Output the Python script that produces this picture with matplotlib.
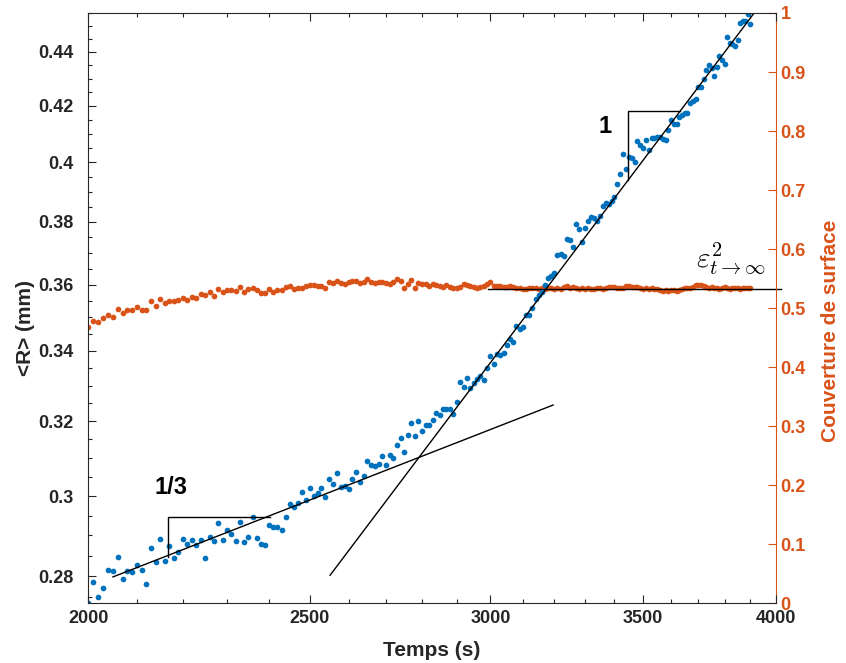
import numpy as np
import matplotlib
matplotlib.use('Agg')
import matplotlib.pyplot as plt
from matplotlib.ticker import FixedLocator, FixedFormatter, NullFormatter

plt.rcParams['font.family'] = ['Liberation Sans', 'DejaVu Sans']
plt.rcParams['font.weight'] = 'bold'
plt.rcParams['mathtext.fontset'] = 'cm'

blue = '#0072BD'
orange = '#D95319'
dark = '#262626'

# one image every 10 s, from 2000 s to 3900 s
temps = np.arange(2000, 3910, 10)

# mean radius <R> (mm), left axis
rayon = [
    0.2735, 0.2786, 0.2750, 0.2772, 0.2815, 0.2812, 0.2846, 0.2794, 0.2813, 0.2811,
    0.2826, 0.2815, 0.2780, 0.2868, 0.2833, 0.2890, 0.2837, 0.2874, 0.2843, 0.2859,
    0.2890, 0.2878, 0.2888, 0.2875, 0.2888, 0.2845, 0.2896, 0.2887, 0.2930, 0.2888,
    0.2913, 0.2903, 0.2887, 0.2934, 0.2883, 0.2897, 0.2946, 0.2894, 0.2878, 0.2876,
    0.2926, 0.2920, 0.2920, 0.2913, 0.2946, 0.2979, 0.2971, 0.2983, 0.3011, 0.2991,
    0.3022, 0.3000, 0.3007, 0.3020, 0.2997, 0.3044, 0.3031, 0.3061, 0.3024, 0.3026,
    0.3018, 0.3044, 0.3062, 0.3037, 0.3052, 0.3091, 0.3081, 0.3079, 0.3084, 0.3106,
    0.3081, 0.3107, 0.3099, 0.3135, 0.3154, 0.3115, 0.3163, 0.3195, 0.3160, 0.3200,
    0.3172, 0.3189, 0.3189, 0.3202, 0.3224, 0.3217, 0.3233, 0.3233, 0.3233, 0.3221,
    0.3254, 0.3310, 0.3296, 0.3322, 0.3293, 0.3306, 0.3318, 0.3328, 0.3317, 0.3349,
    0.3385, 0.3362, 0.3391, 0.3387, 0.3394, 0.3417, 0.3434, 0.3427, 0.3473, 0.3465,
    0.3470, 0.3506, 0.3507, 0.3527, 0.3556, 0.3567, 0.3577, 0.3598, 0.3622, 0.3626,
    0.3635, 0.3693, 0.3695, 0.3691, 0.3746, 0.3740, 0.3719, 0.3793, 0.3777, 0.3734,
    0.3779, 0.3802, 0.3817, 0.3812, 0.3802, 0.3819, 0.3853, 0.3861, 0.3859, 0.3870,
    0.3883, 0.3926, 0.3960, 0.4029, 0.3979, 0.4019, 0.4015, 0.4003, 0.4075, 0.4061,
    0.4049, 0.4078, 0.4043, 0.4086, 0.4085, 0.4089, 0.4088, 0.4080, 0.4077, 0.4113,
    0.4149, 0.4133, 0.4134, 0.4158, 0.4166, 0.4173, 0.4174, 0.4209, 0.4218, 0.4225,
    0.4267, 0.4267, 0.4299, 0.4331, 0.4349, 0.4340, 0.4309, 0.4344, 0.4384, 0.4369,
    0.4354, 0.4455, 0.4432, 0.4429, 0.4422, 0.4445, 0.4509, 0.4519, 0.4519, 0.4548,
    0.4506,
]

# surface coverage, right axis
couverture = [
    0.4681, 0.4782, 0.4760, 0.4828, 0.4884, 0.4855, 0.4981, 0.4918, 0.4969, 0.4964,
    0.5014, 0.4974, 0.4964, 0.5121, 0.5042, 0.5150, 0.5092, 0.5126, 0.5121, 0.5133,
    0.5177, 0.5143, 0.5194, 0.5172, 0.5235, 0.5223, 0.5268, 0.5201, 0.5329, 0.5274,
    0.5307, 0.5313, 0.5296, 0.5363, 0.5268, 0.5324, 0.5341, 0.5307, 0.5262, 0.5262,
    0.5319, 0.5274, 0.5307, 0.5302, 0.5358, 0.5375, 0.5324, 0.5341, 0.5346, 0.5375,
    0.5392, 0.5397, 0.5381, 0.5376, 0.5336, 0.5438, 0.5421, 0.5466, 0.5421, 0.5404,
    0.5438, 0.5460, 0.5460, 0.5421, 0.5449, 0.5494, 0.5438, 0.5421, 0.5449, 0.5438,
    0.5421, 0.5404, 0.5438, 0.5494, 0.5460, 0.5347, 0.5404, 0.5472, 0.5336, 0.5421,
    0.5410, 0.5404, 0.5381, 0.5404, 0.5387, 0.5381, 0.5364, 0.5393, 0.5359, 0.5347,
    0.5336, 0.5364, 0.5404, 0.5393, 0.5376, 0.5359, 0.5336, 0.5353, 0.5381, 0.5404,
    0.5438, 0.5381, 0.5381, 0.5381, 0.5364, 0.5359, 0.5370, 0.5353, 0.5347, 0.5336,
    0.5330, 0.5325, 0.5336, 0.5347, 0.5347, 0.5330, 0.5342, 0.5318, 0.5336, 0.5350,
    0.5325, 0.5340, 0.5330, 0.5362, 0.5370, 0.5348, 0.5355, 0.5338, 0.5326, 0.5340,
    0.5332, 0.5345, 0.5330, 0.5322, 0.5336, 0.5340, 0.5328, 0.5335, 0.5352, 0.5366,
    0.5360, 0.5345, 0.5338, 0.5350, 0.5372, 0.5380, 0.5365, 0.5355, 0.5362, 0.5340,
    0.5332, 0.5338, 0.5330, 0.5335, 0.5328, 0.5320, 0.5300, 0.5295, 0.5305, 0.5292,
    0.5300, 0.5310, 0.5298, 0.5315, 0.5322, 0.5340, 0.5335, 0.5348, 0.5360, 0.5385,
    0.5400, 0.5392, 0.5375, 0.5360, 0.5345, 0.5358, 0.5340, 0.5336, 0.5330, 0.5342,
    0.5355, 0.5348, 0.5332, 0.5340, 0.5350, 0.5338, 0.5330, 0.5342, 0.5336, 0.5345,
    0.5340,
]

# power-law fits (end points) and slope triangles
fit13_t = [2050, 3196]
fit13_R = [0.2798, 0.3245]
fit1_t = [2552, 3914]
fit1_R = [0.2802, 0.4549]
plateau_t = [2993, 4022]
plateau_c = [0.5319, 0.5319]
tri13_t = [2168, 2168, 2402]
tri13_R = [0.2847, 0.2947, 0.2947]
tri1_t = [3446, 3446, 3632]
tri1_R = [0.3939, 0.4181, 0.4181]

x_major = [2000, 2500, 3000, 3500, 4000]
x_minor = [t for t in range(2100, 4000, 100) if t not in x_major]
y_major = [0.28, 0.30, 0.32, 0.34, 0.36, 0.38, 0.40, 0.42, 0.44]
y_major_lbl = ['0.28', '0.3', '0.32', '0.34', '0.36', '0.38', '0.4', '0.42', '0.44']
y_minor = [round(0.275 + 0.005 * k, 3) for k in range(37)]
c_ticks = [0, 0.1, 0.2, 0.3, 0.4, 0.5, 0.6, 0.7, 0.8, 0.9, 1]
c_lbl = ['0', '0.1', '0.2', '0.3', '0.4', '0.5', '0.6', '0.7', '0.8', '0.9', '1']

fig, ax = plt.subplots(figsize=(8.46, 6.63), dpi=100)
fig.subplots_adjust(left=0.1046, right=0.9167, bottom=0.0900, top=0.9804)
ax.set_xscale('log')
ax.set_yscale('log')
ax2 = ax.twinx()
ax.set_zorder(ax2.get_zorder() + 1)
ax.patch.set_visible(False)

# right axis: coverage
ax2.plot(temps, couverture, 'o', color=orange, ms=4.1, mew=0)
ax2.plot(plateau_t, plateau_c, color='k', lw=1, clip_on=False)
ax2.set_ylim(0, 1)
ax2.yaxis.set_major_locator(FixedLocator(c_ticks))
ax2.yaxis.set_major_formatter(FixedFormatter(c_lbl))
ax2.tick_params(axis='y', which='both', direction='in', colors=orange,
                labelsize=13, length=6, width=0.8)
ax2.yaxis.set_minor_locator(FixedLocator([]))
for s in ['top', 'left', 'bottom']:
    ax2.spines[s].set_visible(False)
ax2.spines['right'].set_color(orange)
ax2.set_ylabel('Couverture de surface', color=orange, fontsize=15,
               fontweight='bold')
ax2.yaxis.set_label_coords(1.066, 0.462)

# left axis: radius
ax.plot(temps, rayon, 'o', color=blue, ms=4.1, mew=0)
ax.plot(fit13_t, fit13_R, color='k', lw=1)
ax.plot(fit1_t, fit1_R, color='k', lw=1)
ax.plot(tri13_t, tri13_R, color='k', lw=1)
ax.plot(tri1_t, tri1_R, color='k', lw=1)
ax.text(2174, 0.3022, '1/3', fontsize=17, fontweight='bold', ha='center', va='center')
ax.text(3368, 0.4126, '1', fontsize=17, fontweight='bold', ha='center', va='center')
ax2.text(3825, 0.585, r'$\varepsilon^{2}_{t\to\infty}$', fontsize=21,
         ha='center', va='center')

ax.set_xlim(2000, 4000)
ax.set_ylim(0.2735, 0.455)
ax.xaxis.set_major_locator(FixedLocator(x_major))
ax.xaxis.set_major_formatter(FixedFormatter([str(t) for t in x_major]))
ax.xaxis.set_minor_locator(FixedLocator(x_minor))
ax.xaxis.set_minor_formatter(NullFormatter())
ax.yaxis.set_major_locator(FixedLocator(y_major))
ax.yaxis.set_major_formatter(FixedFormatter(y_major_lbl))
ax.yaxis.set_minor_locator(FixedLocator(y_minor))
ax.yaxis.set_minor_formatter(NullFormatter())
ax.tick_params(which='both', direction='in', top=True, right=False,
               colors=dark, labelsize=13, width=0.8)
ax.tick_params(which='major', length=6)
ax.tick_params(which='minor', length=3)
ax.tick_params(axis='y', which='major', pad=11)
ax.tick_params(axis='x', which='major', pad=5)
ax.spines['right'].set_visible(False)
for s in ['top', 'left', 'bottom']:
    ax.spines[s].set_color(dark)

ax.set_xlabel('Temps (s)', fontsize=15, fontweight='bold', color=dark, labelpad=10)
ax.set_ylabel('<R> (mm)', fontsize=15, fontweight='bold', color=dark)
ax.yaxis.set_label_coords(-0.078, 0.466)

plt.savefig('out.png', dpi=100)
